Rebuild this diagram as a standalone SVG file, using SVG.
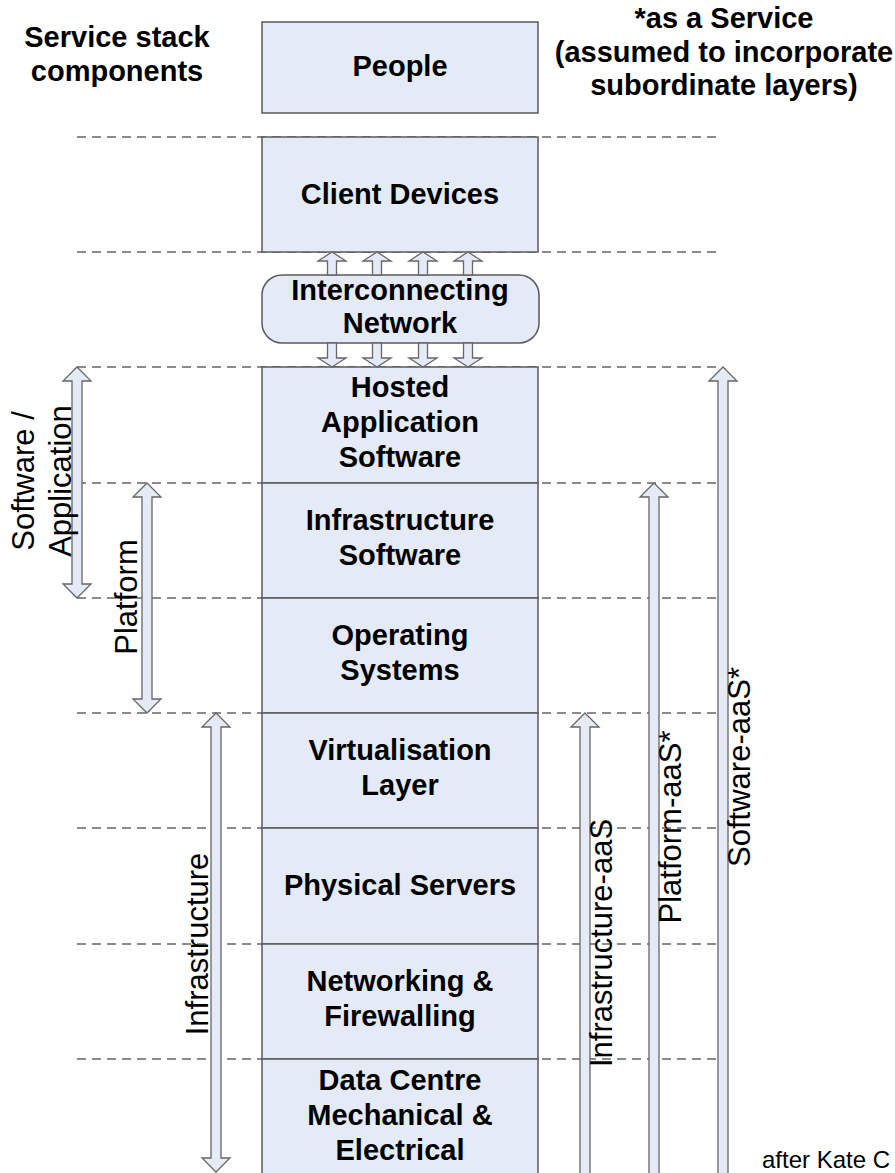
<svg xmlns="http://www.w3.org/2000/svg" width="895" height="1173" viewBox="0 0 895 1173">
<style>
.box{fill:#E4EAF6;stroke:#5A5A5A;stroke-width:1.5}
.lbl{font-family:"Liberation Sans",Arial,sans-serif;font-weight:bold;font-size:29px;text-anchor:middle;fill:#000}
.side{font-family:"Liberation Sans",Arial,sans-serif;font-size:31px;text-anchor:middle;fill:#000}
.note{font-family:"Liberation Sans",Arial,sans-serif;font-size:24px;fill:#000}
.dash{stroke:#666;stroke-width:1.5;stroke-dasharray:9 6;fill:none}
.arr{fill:#E4EAF6;stroke:#666;stroke-width:1.3;stroke-linejoin:miter}
</style>
<rect width="895" height="1173" fill="#fff"/>
<g id="guides">
<path class="dash" d="M77,137H722M77,252H722M77,367H722M77,483H722M77,598H722M77,713H722M77,828H722M77,944H722M77,1059H722"/>
</g>
<g id="headers">
<text class="lbl" x="117" y="47">Service stack</text>
<text class="lbl" x="117" y="81">components</text>
<text class="lbl" x="724" y="28">*as a Service</text>
<text class="lbl" x="724" y="62">(assumed to incorporate</text>
<text class="lbl" x="724" y="95">subordinate layers)</text>
</g>
<g id="people"><rect class="box" x="262" y="22" width="276" height="91"/><text class="lbl" x="400" y="76">People</text></g>
<g id="client-devices"><rect class="box" x="262" y="137" width="276" height="115"/><text class="lbl" x="400" y="204">Client Devices</text></g>
<g id="network"><rect class="box" x="262" y="275" width="277" height="68" rx="20" ry="20"/><text class="lbl" x="400" y="300">Interconnecting</text><text class="lbl" x="400" y="333">Network</text></g>
<g id="hosted-app"><rect class="box" x="262" y="367" width="276" height="116"/><text class="lbl" x="400" y="397">Hosted</text><text class="lbl" x="400" y="432">Application</text><text class="lbl" x="400" y="467">Software</text></g>
<g id="infra-software"><rect class="box" x="262" y="483" width="276" height="115"/><text class="lbl" x="400" y="530">Infrastructure</text><text class="lbl" x="400" y="565">Software</text></g>
<g id="os"><rect class="box" x="262" y="598" width="276" height="115"/><text class="lbl" x="400" y="645">Operating</text><text class="lbl" x="400" y="680">Systems</text></g>
<g id="virtualisation"><rect class="box" x="262" y="713" width="276" height="115"/><text class="lbl" x="400" y="760">Virtualisation</text><text class="lbl" x="400" y="795">Layer</text></g>
<g id="servers"><rect class="box" x="262" y="828" width="276" height="116"/><text class="lbl" x="400" y="895">Physical Servers</text></g>
<g id="networking"><rect class="box" x="262" y="944" width="276" height="115"/><text class="lbl" x="400" y="991">Networking &amp;</text><text class="lbl" x="400" y="1026">Firewalling</text></g>
<g id="datacentre"><rect class="box" x="262" y="1059" width="276" height="125"/><text class="lbl" x="400" y="1090">Data Centre</text><text class="lbl" x="400" y="1125">Mechanical &amp;</text><text class="lbl" x="400" y="1160">Electrical</text></g>
<g id="connectors">
<path class="arr" d="M332,252L346,261L336.5,261L336.5,275L327.5,275L327.5,261L318,261Z"/>
<path class="arr" d="M377,252L391,261L381.5,261L381.5,275L372.5,275L372.5,261L363,261Z"/>
<path class="arr" d="M423,252L437,261L427.5,261L427.5,275L418.5,275L418.5,261L409,261Z"/>
<path class="arr" d="M468,252L482,261L472.5,261L472.5,275L463.5,275L463.5,261L454,261Z"/>
<path class="arr" d="M327.5,343L336.5,343L336.5,358L346,358L332,367L318,358L327.5,358Z"/>
<path class="arr" d="M372.5,343L381.5,343L381.5,358L391,358L377,367L363,358L372.5,358Z"/>
<path class="arr" d="M418.5,343L427.5,343L427.5,358L437,358L423,367L409,358L418.5,358Z"/>
<path class="arr" d="M463.5,343L472.5,343L472.5,358L482,358L468,367L454,358L463.5,358Z"/>
<path class="arr" d="M77,367L91,381L82,381L82,584L91,584L77,598L63,584L72,584L72,381L63,381Z"/>
<path class="arr" d="M147,483L161,497L152,497L152,699L161,699L147,713L133,699L142,699L142,497L133,497Z"/>
<path class="arr" d="M216,713L230,727L221,727L221,1158L230,1158L216,1172L202,1158L211,1158L211,727L202,727Z"/>
<path class="arr" d="M585,713L599,727L590,727L590,1180L580,1180L580,727L571,727Z"/>
<path class="arr" d="M654,483L668,497L659,497L659,1180L649,1180L649,497L640,497Z"/>
<path class="arr" d="M723,367L737,381L728,381L728,1180L718,1180L718,381L709,381Z"/>
</g>
<g id="scope-labels">
<text class="side" transform="translate(0,481) rotate(-90)"><tspan x="0" y="34">Software /</tspan><tspan x="0" y="71">Application</tspan></text>
<text class="side" transform="translate(137,597) rotate(-90)">Platform</text>
<text class="side" transform="translate(208,944) rotate(-90)">Infrastructure</text>
<text class="side" transform="translate(612,943) rotate(-90)">Infrastructure-aaS</text>
<text class="side" transform="translate(681,827) rotate(-90)">Platform-aaS*</text>
<text class="side" transform="translate(750,767) rotate(-90)">Software-aaS*</text>
</g>
<text class="note" x="762" y="1168">after Kate C</text>
</svg>
